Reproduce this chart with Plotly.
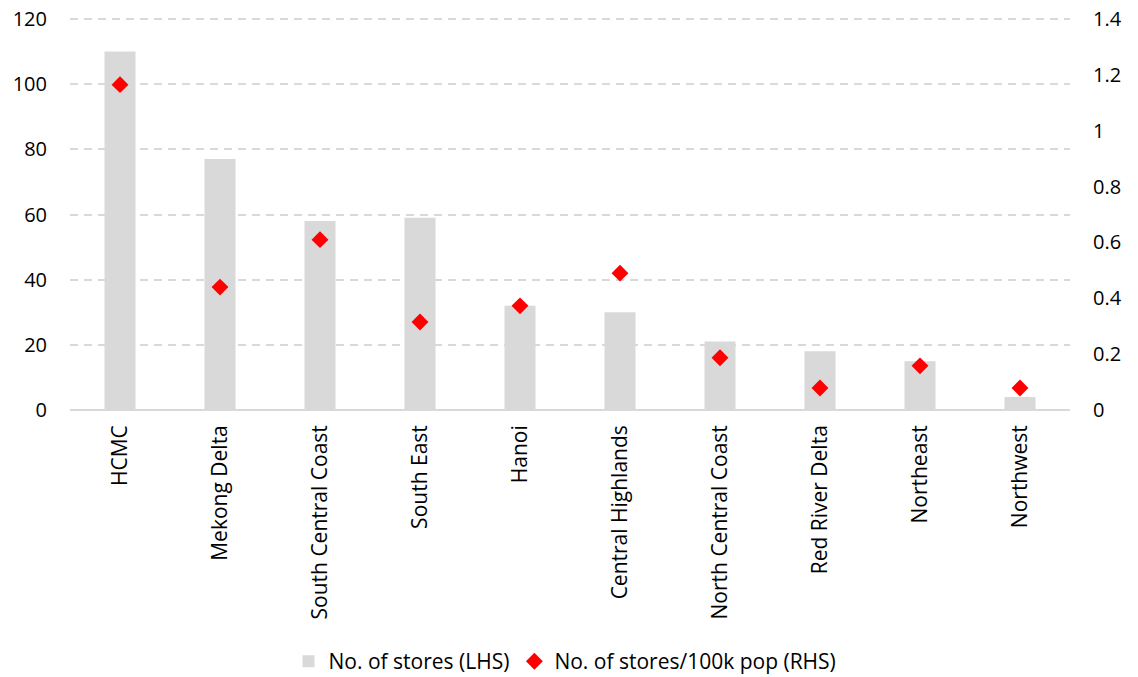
import plotly.graph_objects as go

categories = ["HCMC", "Mekong Delta", "South Central Coast", "South East", "Hanoi",
              "Central Highlands", "North Central Coast", "Red River Delta", "Northeast", "Northwest"]
stores = [110, 77, 58, 59, 32, 30, 21, 18, 15, 4]
stores_per_100k = [1.165, 0.44, 0.61, 0.315, 0.373, 0.49, 0.187, 0.079, 0.158, 0.079]

left_ticks = [0, 20, 40, 60, 80, 100, 120]
right_ticks = [0, 0.2, 0.4, 0.6, 0.8, 1, 1.2, 1.4]
right_ticktext = ["0", "0.2", "0.4", "0.6", "0.8", "1", "1.2", "1.4"]

# headroom above the top tick so its dashed gridline is drawn
pad = 395 / 391

FONT = "Open Sans"
fig = go.Figure()
fig.add_trace(go.Bar(x=categories, y=stores, name="No. of stores (LHS)",
                     marker=dict(color="#d9d9d9", line=dict(width=0)), yaxis="y"))
fig.add_trace(go.Scatter(x=categories, y=stores_per_100k, name="No. of stores/100k pop (RHS)",
                         mode="markers", marker=dict(symbol="diamond", color="#ff0000", size=13),
                         yaxis="y2"))

fig.update_layout(
    width=1138, height=677,
    margin=dict(l=70, r=68, t=15, b=267, autoexpand=False),
    paper_bgcolor="white", plot_bgcolor="white",
    font=dict(family=FONT, size=20, color="#000000"),
    bargap=0.69,
    showlegend=True,
    legend=dict(orientation="h", x=0.495, xanchor="center", y=-0.637, yanchor="middle",
                font=dict(size=21), itemwidth=30, tracegroupgap=0),
    xaxis=dict(tickangle=-90, showgrid=False, showline=False, ticks="", automargin=False,
               range=[-0.5, len(categories) - 0.5],
               tickfont=dict(size=21), ticklabelstandoff=10),
    yaxis=dict(range=[0, 120 * pad], tickvals=left_ticks, showgrid=True, gridcolor="#d9d9d9",
               griddash="8px,6px", gridwidth=1.5, zeroline=True, zerolinecolor="#d9d9d9",
               zerolinewidth=2, showline=False, ticks="", ticklabelstandoff=22, automargin=False),
    yaxis2=dict(range=[0, 1.4 * pad], tickvals=right_ticks, ticktext=right_ticktext,
                overlaying="y", side="right", showgrid=False, zeroline=False,
                showline=False, ticks="", ticklabelstandoff=22, automargin=False),
)

fig.write_html("out.html")
